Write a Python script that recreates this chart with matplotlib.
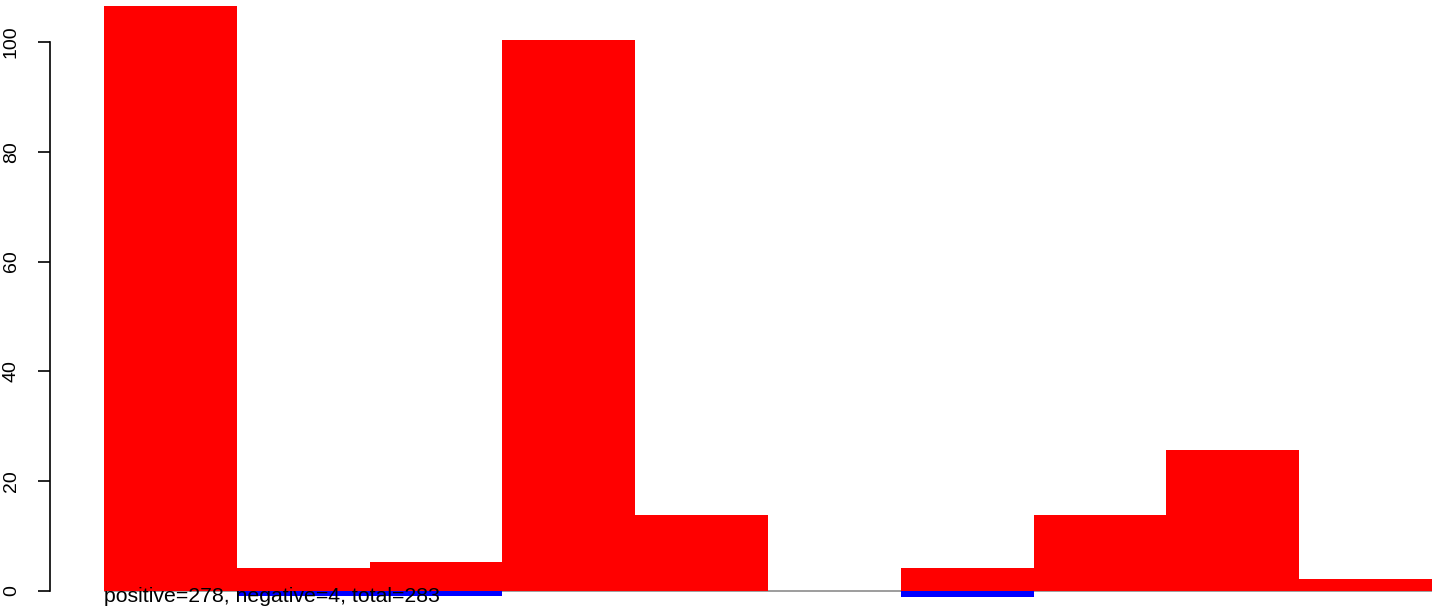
import numpy as np
import matplotlib
matplotlib.use("Agg")
import matplotlib.pyplot as plt

plt.rcParams['font.family'] = ['Liberation Sans', 'DejaVu Sans']

# bar values
positive = [106.6, 4.2, 5.3, 100.3, 13.9, 0, 4.2, 13.9, 25.6, 2.1]
negative = [0, -1.0, -1.0, 0, 0, 0, -1.1, 0, 0, 0]
yticks = [0, 20, 40, 60, 80, 100]
summary = "positive=278, negative=4, total=283"

n = len(positive)
x = np.arange(n)

fig = plt.figure(figsize=(14.44, 6.14), dpi=100)
ax = fig.add_axes([0, 0, 1, 1])

# zero line, only visible where no bars cover it
ax.hlines(0, 0, n, color='#8c8c8c', linewidth=1.2, zorder=1)
ax.bar(x, positive, width=1, align='edge', color='#ff0000', linewidth=0, zorder=2)
ax.bar(x, negative, width=1, align='edge', color='#0000ff', linewidth=0, zorder=2)

ax.set_xlim(-0.783, 10.09)
ax.set_ylim(-4.19, 107.65)

for s in ['top', 'right', 'bottom']:
    ax.spines[s].set_visible(False)
ax.spines['left'].set_position(('data', -0.4066))
ax.spines['left'].set_bounds(0, 100)
ax.spines['left'].set_linewidth(1.2)

ax.set_xticks([])
ax.set_yticks(yticks)
ax.set_yticklabels([str(t) for t in yticks], rotation=90, va='center', fontsize=14)
ax.tick_params(axis='y', length=8.6, width=1.2, pad=13)

ax.text(0, -2.0, summary, ha='left', va='baseline', fontsize=15.3, color='black', zorder=3)

fig.savefig("out.png", dpi=100)
